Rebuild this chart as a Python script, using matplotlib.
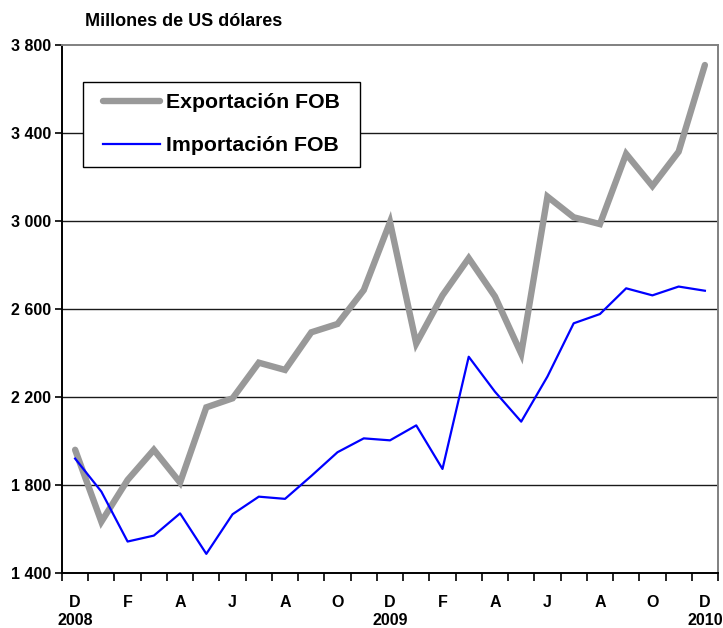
import numpy as np
import matplotlib
matplotlib.use("Agg")
import matplotlib.pyplot as plt
import matplotlib.transforms as mtransforms
from matplotlib.patches import Rectangle

plt.rcParams["font.family"] = ["Liberation Sans", "DejaVu Sans"]
plt.rcParams["font.weight"] = "bold"

# Monthly series, Dec 2008 .. Dec 2010 (millions of US dollars)
months = ["D", "E", "F", "M", "A", "M", "J", "J", "A", "S", "O", "N",
          "D", "E", "F", "M", "A", "M", "J", "J", "A", "S", "O", "N", "D"]
years = {0: "2008", 12: "2009", 24: "2010"}
exports_fob = [1960, 1633, 1823, 1960, 1811, 2153, 2194, 2356, 2323, 2494, 2532, 2686,
               2995, 2443, 2662, 2831, 2657, 2397, 3111, 3017, 2986, 3305, 3159, 3315, 3709]
imports_fob = [1920, 1770, 1543, 1570, 1671, 1487, 1667, 1747, 1737, 1841, 1949, 2012,
               2003, 2071, 1873, 2383, 2224, 2088, 2293, 2535, 2577, 2694, 2662, 2702, 2683]
y_ticks = [1400, 1800, 2200, 2600, 3000, 3400, 3800]

W, H = 723, 628
fig = plt.figure(figsize=(W / 100, H / 100), dpi=100, facecolor="white")
ax = fig.add_axes([62 / W, 1 - 573 / H, (718 - 62) / W, (573 - 45) / H])

x = np.arange(len(months))
exp_line, = ax.plot(x, exports_fob, color="#999999", lw=4.6, solid_capstyle="round",
                    solid_joinstyle="miter", label="Exportación FOB", zorder=3)
imp_line, = ax.plot(x, imports_fob, color="#0000ff", lw=1.6,
                    label="Importación FOB", zorder=4)

ax.set_xlim(-0.5, len(months) - 0.5)
ax.set_ylim(1400, 3800)

# horizontal gridlines
for v in y_ticks[1:-1]:
    ax.axhline(v, color="#1a1a1a", lw=1.0, zorder=1)

ax.set_yticks(y_ticks)
ax.set_yticklabels([f"{v:,}".replace(",", " ") for v in y_ticks])
ax.tick_params(axis="y", direction="out", length=5, width=1.2, labelsize=11.5, pad=3)

# category boundaries as ticks, month letters every other month
ax.set_xticks(np.arange(-0.5, len(months) + 0.5, 1.0), minor=True)
ax.set_xticks(x[::2])
ax.set_xticklabels(months[::2])
ax.tick_params(axis="x", which="minor", direction="out", length=6, width=1.2)
ax.tick_params(axis="x", which="major", length=0, labelsize=11.5, pad=16)

trans = mtransforms.blended_transform_factory(ax.transData, ax.transAxes)
for pos, yr in years.items():
    ax.text(pos, -0.09, yr, transform=trans, ha="center", va="center",
            fontsize=11.5, fontweight="bold")

for side in ["left", "bottom"]:
    ax.spines[side].set_color("black")
    ax.spines[side].set_linewidth(1.4)
for side in ["top", "right"]:
    ax.spines[side].set_color("#808080")
    ax.spines[side].set_linewidth(1.4)

fig.text(85 / W, 1 - 21 / H, "Millones de US dólares", ha="left", va="center",
         fontsize=13, fontweight="bold")

# legend box drawn separately so the padding can differ per side
fig.patches.append(Rectangle((83 / W, 1 - 167 / H), (360 - 83) / W, (167 - 82) / H,
                             transform=fig.transFigure, facecolor="white",
                             edgecolor="black", lw=1.0, zorder=5))
leg = fig.legend(handles=[exp_line, imp_line], loc="upper left",
                 bbox_to_anchor=(103 / W, 1 - 93 / H), fontsize=15.3,
                 frameon=False, handlelength=2.7, handletextpad=0.25,
                 borderpad=0, labelspacing=1.15, borderaxespad=0)
leg.set_zorder(6)
for t in leg.get_texts():
    t.set_fontweight("bold")

fig.savefig("out.png", dpi=100, facecolor="white")
